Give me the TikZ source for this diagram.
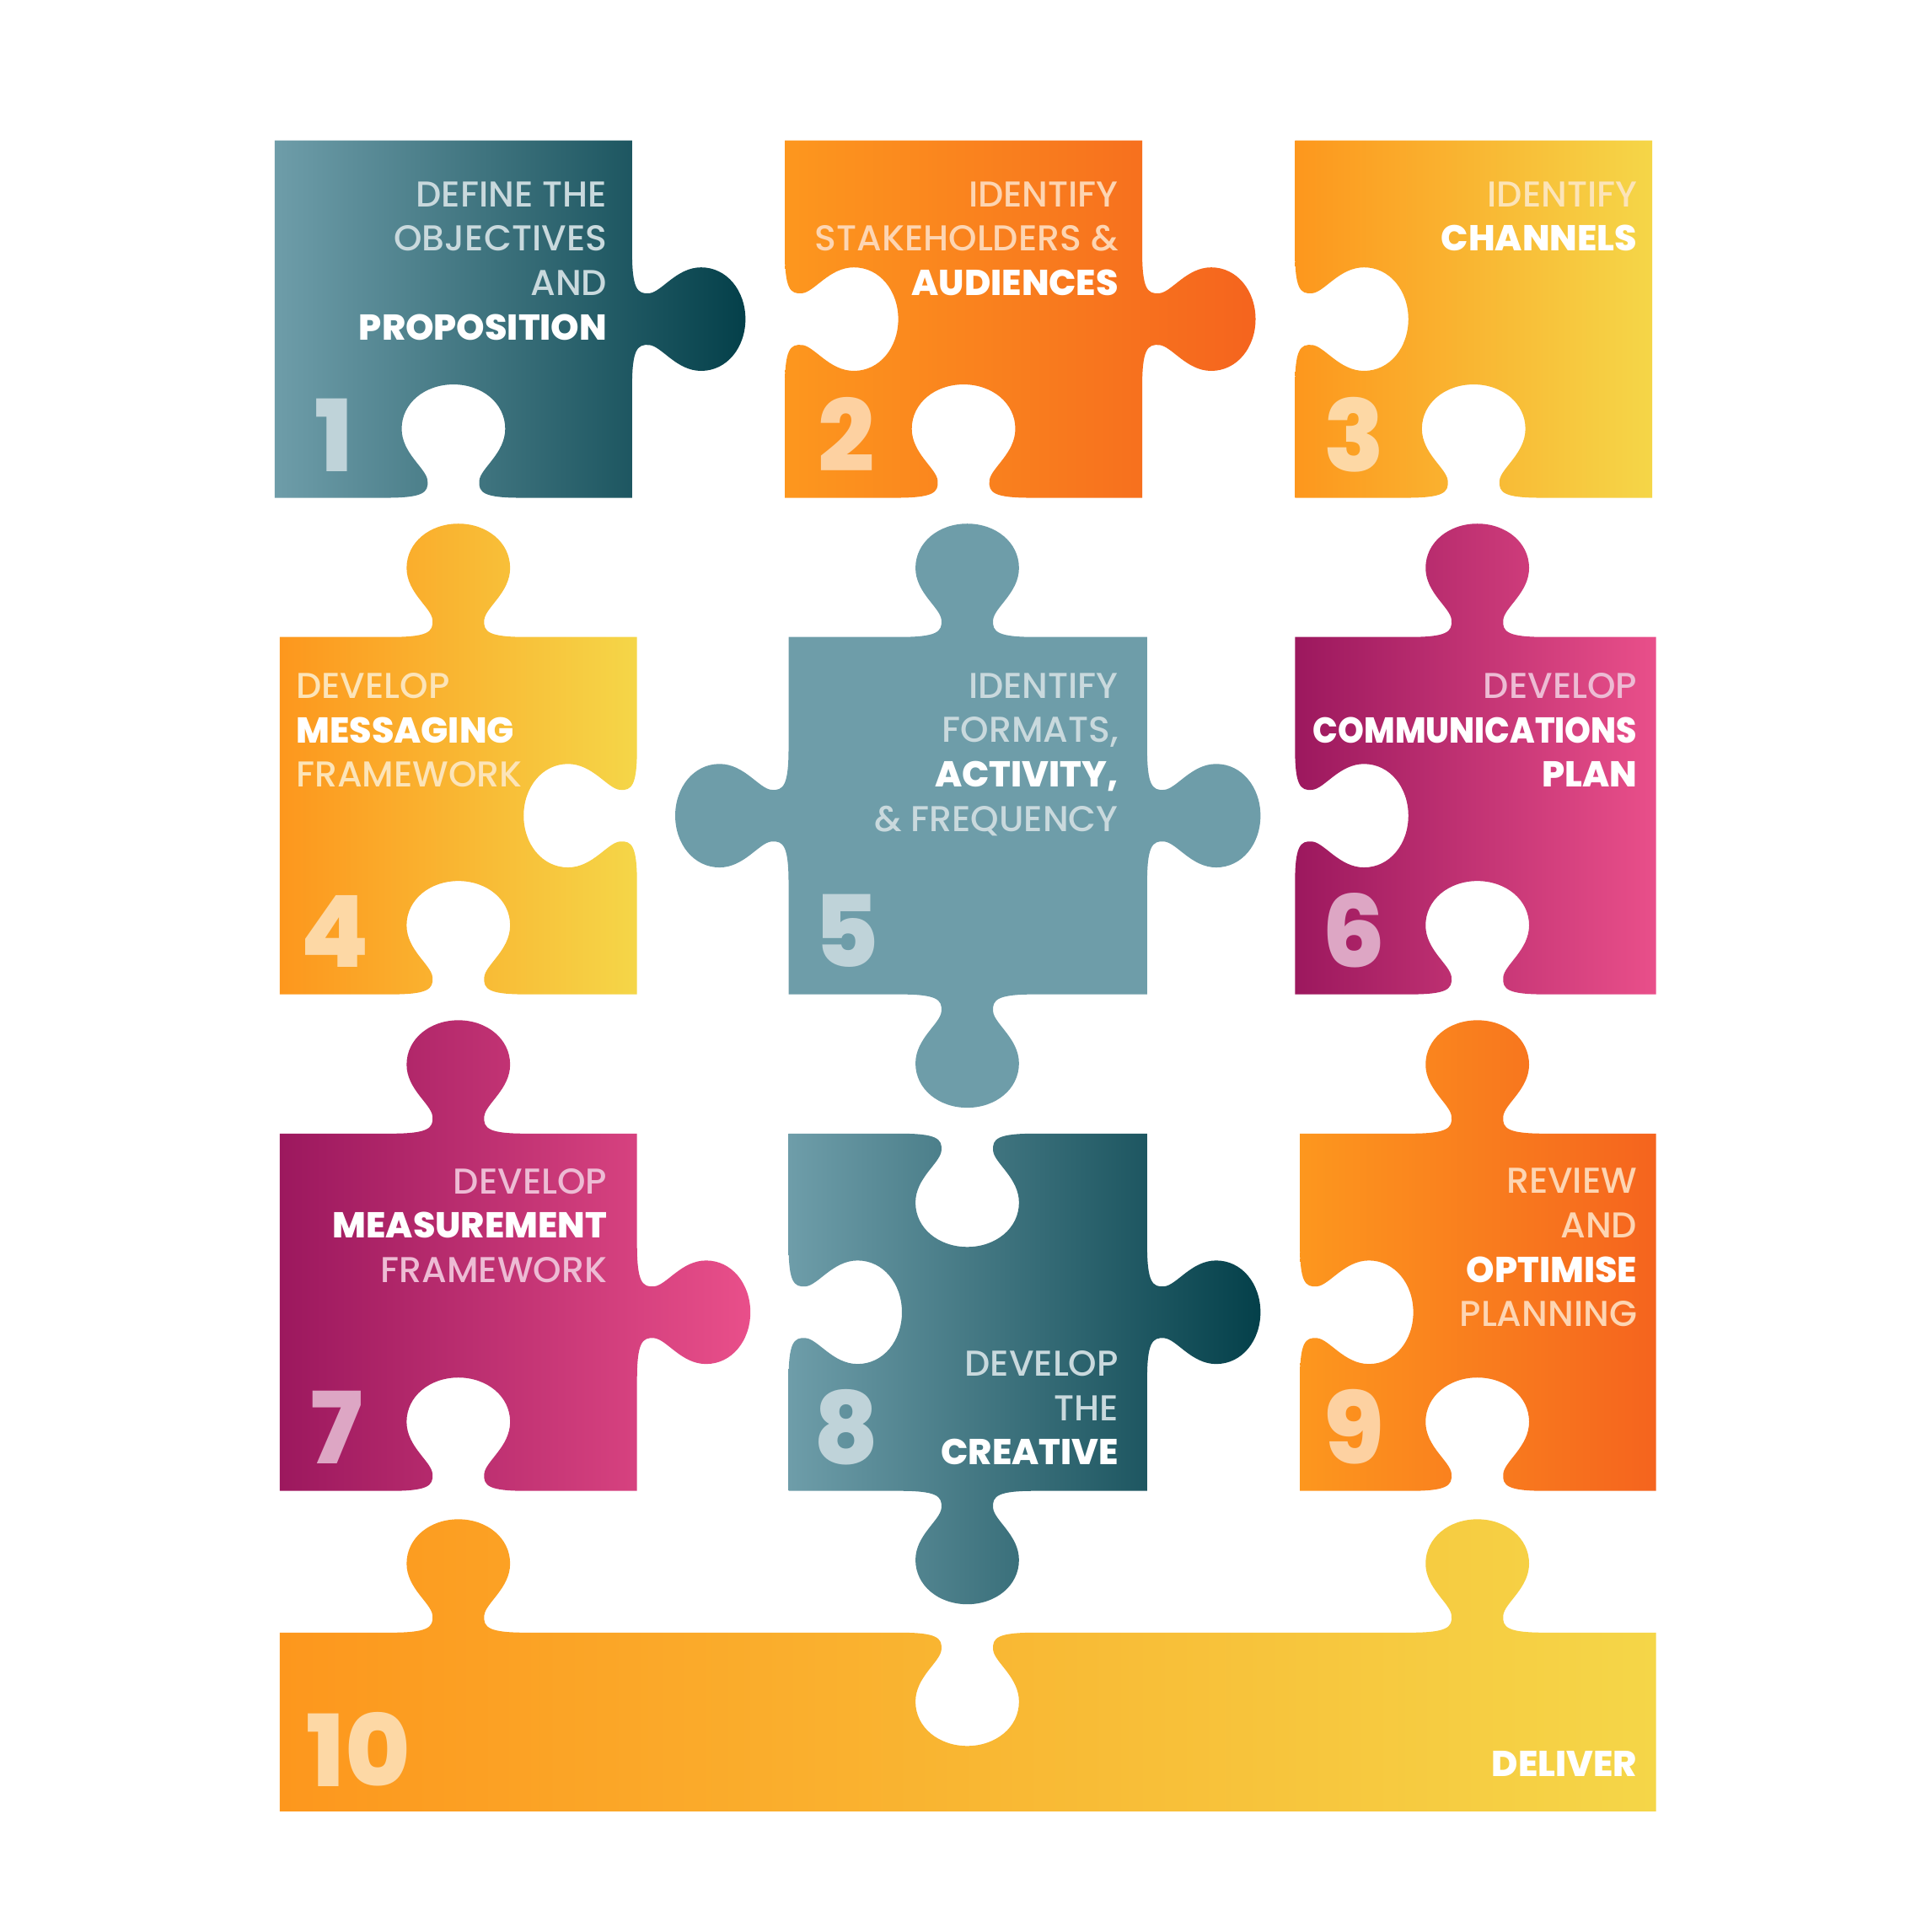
\documentclass[tikz,border=0pt]{standalone}
\usepackage{fontspec}
\setmainfont{Poppins Medium}[BoldFont={Poppins ExtraBold}]
\usepackage{graphicx}
\usepackage{tikz}
\usepackage{xcolor}

\definecolor{tealL}{HTML}{6E9DA9}
\definecolor{tealR}{HTML}{04404A}
\definecolor{tealtxt}{HTML}{C9D9DD}
\definecolor{tealnum}{HTML}{BFD3D9}
\definecolor{orgL}{HTML}{FD971E}
\definecolor{orgR}{HTML}{F5641E}
\definecolor{peachtxt}{HTML}{FDD5B2}
\definecolor{peachnum}{HTML}{FDD1A1}
\definecolor{ambL}{HTML}{FD971D}
\definecolor{ambR}{HTML}{F5D648}
\definecolor{creamtxt}{HTML}{FCE4B8}
\definecolor{creamnum}{HTML}{FDD8A5}
\definecolor{plumL}{HTML}{9C185E}
\definecolor{plumR}{HTML}{E94F8A}
\definecolor{pinktxt}{HTML}{EDBBD4}
\definecolor{pinknum}{HTML}{DDA6C4}

\newcommand\hb[4]{-- ({#1-(#3)*55},#2)
 .. controls ({#1-(#3)*25},#2) and ({#1-(#3)*20},{#2+(#4)*4}) .. ({#1-(#3)*21},{#2+(#4)*14})
 .. controls ({#1-(#3)*22},{#2+(#4)*24}) and ({#1-(#3)*42},{#2+(#4)*36}) .. ({#1-(#3)*42},{#2+(#4)*56})
 .. controls ({#1-(#3)*42},{#2+(#4)*77}) and ({#1-(#3)*23},{#2+(#4)*92}) .. (#1,{#2+(#4)*92})
 .. controls ({#1+(#3)*23},{#2+(#4)*92}) and ({#1+(#3)*42},{#2+(#4)*77}) .. ({#1+(#3)*42},{#2+(#4)*56})
 .. controls ({#1+(#3)*42},{#2+(#4)*36}) and ({#1+(#3)*22},{#2+(#4)*24}) .. ({#1+(#3)*21},{#2+(#4)*14})
 .. controls ({#1+(#3)*20},{#2+(#4)*4}) and ({#1+(#3)*25},#2) .. ({#1+(#3)*55},#2)}
\newcommand\vb[4]{-- (#2,{#1-(#3)*55})
 .. controls (#2,{#1-(#3)*25}) and ({#2+(#4)*4},{#1-(#3)*20}) .. ({#2+(#4)*14},{#1-(#3)*21})
 .. controls ({#2+(#4)*24},{#1-(#3)*22}) and ({#2+(#4)*36},{#1-(#3)*42}) .. ({#2+(#4)*56},{#1-(#3)*42})
 .. controls ({#2+(#4)*77},{#1-(#3)*42}) and ({#2+(#4)*92},{#1-(#3)*23}) .. ({#2+(#4)*92},#1)
 .. controls ({#2+(#4)*92},{#1+(#3)*23}) and ({#2+(#4)*77},{#1+(#3)*42}) .. ({#2+(#4)*56},{#1+(#3)*42})
 .. controls ({#2+(#4)*36},{#1+(#3)*42}) and ({#2+(#4)*24},{#1+(#3)*22}) .. ({#2+(#4)*14},{#1+(#3)*21})
 .. controls ({#2+(#4)*4},{#1+(#3)*20}) and (#2,{#1+(#3)*25}) .. (#2,{#1+(#3)*55})}
\newcommand\kw[1]{{\bfseries\fontsize{16.6}{20.5}\selectfont\color{white}#1}}

\tikzset{
  lbl/.style={inner sep=0pt,align=right,anchor=north east,font=\fontsize{16.6}{20.5}\selectfont},
  num/.style={inner sep=0pt,anchor=base,font=\bfseries\fontsize{46}{46}\selectfont},
  tealgrad/.style={left color=tealL,right color=tealR},
  orggrad/.style={left color=orgL,right color=orgR},
  ambgrad/.style={left color=ambL,right color=ambR},
  plumgrad/.style={left color=plumL,right color=plumR}
}

\begin{document}
\begin{tikzpicture}[x=0.2mm,y=-0.2mm]
\useasboundingbox (0,0) rectangle (1568,1568);
\shade[tealgrad] (223,114) -- (513,114) \vb{259}{513}{1}{1} -- (513,404) \hb{368}{404}{-1}{-1} -- (223,404) -- cycle;
\shade[orggrad] (637,114) -- (927,114) \vb{259}{927}{1}{1} -- (927,404) \hb{782}{404}{-1}{-1} -- (637,404) \vb{259}{637}{-1}{1} -- cycle;
\shade[ambgrad] (1051,114) -- (1341,114) -- (1341,404) \hb{1196}{404}{-1}{-1} -- (1051,404) \vb{259}{1051}{-1}{1} -- cycle;
\shade[ambgrad] (227,517) \hb{372}{517}{1}{-1} -- (517,517) \vb{662}{517}{1}{-1} -- (517,807) \hb{372}{807}{-1}{-1} -- (227,807) -- cycle;
\fill[tealL] (640,517) \hb{785}{517}{1}{-1} -- (931,517) \vb{662}{931}{1}{1} -- (931,807) \hb{785}{807}{-1}{1} -- (640,807) \vb{662}{640}{-1}{-1} -- cycle;
\shade[plumgrad] (1051,517) \hb{1199}{517}{1}{-1} -- (1344,517) -- (1344,807) \hb{1199}{807}{-1}{-1} -- (1051,807) \vb{662}{1051}{-1}{1} -- cycle;
\shade[plumgrad] (227,920) \hb{372}{920}{1}{-1} -- (517,920) \vb{1065}{517}{1}{1} -- (517,1210) \hb{372}{1210}{-1}{-1} -- (227,1210) -- cycle;
\shade[tealgrad] (640,920) \hb{785}{920}{1}{1} -- (931,920) \vb{1065}{931}{1}{1} -- (931,1210) \hb{785}{1210}{-1}{1} -- (640,1210) \vb{1065}{640}{-1}{1} -- cycle;
\shade[orggrad] (1055,920) \hb{1199}{920}{1}{-1} -- (1344,920) -- (1344,1210) \hb{1199}{1210}{-1}{-1} -- (1055,1210) \vb{1065}{1055}{-1}{1} -- cycle;
\shade[ambgrad] (227,1325) \hb{372}{1325}{1}{-1} \hb{785}{1325}{1}{1} \hb{1199}{1325}{1}{-1} -- (1344,1325) -- (1344,1470) -- (227,1470) -- cycle;

\node[lbl,text=tealtxt] (txt1) at (493,147){DEFINE THE\\OBJECTIVES\\AND\\\kw{PROPOSITION}};
\node[lbl,text=peachtxt] (txt2) at (908,147){IDENTIFY\\STAKEHOLDERS \&\\\kw{AUDIENCES}};
\node[lbl,text=creamtxt] (txt3) at (1329,147){IDENTIFY\\\kw{CHANNELS}};
\node[lbl,text=creamtxt,align=left,anchor=north west] (txt4) at (240,546){DEVELOP\\\kw{MESSAGING}\\FRAMEWORK};
\node[lbl,text=tealtxt] (txt5) at (908,546){IDENTIFY\\FORMATS,\\\kw{ACTIVITY,}\\\& FREQUENCY};
\node[lbl,text=pinktxt] (txt6) at (1329,546){DEVELOP\\\scalebox{0.92}[1]{\kw{COMMUNICATIONS}}\\\kw{PLAN}};
\node[lbl,text=pinktxt] (txt7) at (493,948){DEVELOP\\\kw{MEASUREMENT}\\FRAMEWORK};
\node[lbl,text=tealtxt] (txt8) at (908,1096){DEVELOP\\THE\\\kw{CREATIVE}};
\node[lbl,text=peachtxt] (txt9) at (1329,948){REVIEW\\AND\\\kw{OPTIMISE}\\PLANNING};
\node[lbl] (txt10) at (1329,1421){\kw{DELIVER}};

\node[num,text=tealnum] (num1) at (271,383){1};
\node[num,text=peachnum] (num2) at (687,383){2};
\node[num,text=creamnum] (num3) at (1099,383){3};
\node[num,text=creamnum] (num4) at (272,785){4};
\node[num,text=tealnum] (num5) at (687,785){5};
\node[num,text=pinknum] (num6) at (1099,785){6};
\node[num,text=pinknum] (num7) at (273,1188){7};
\node[num,text=tealnum] (num8) at (687,1188){8};
\node[num,text=peachnum] (num9) at (1099,1188){9};
\node[num,text=creamnum] (num10) at (291,1450){10};
\end{tikzpicture}
\end{document}
